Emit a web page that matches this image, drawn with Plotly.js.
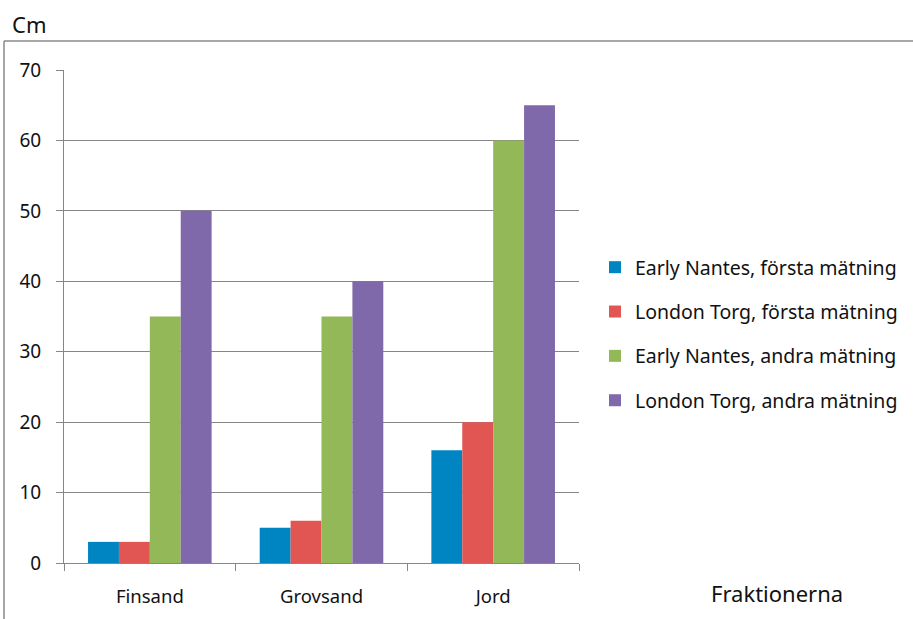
<!DOCTYPE html>
<html><head><meta charset="utf-8">
<script src="https://cdn.plot.ly/plotly-3.0.1.min.js"></script>
<style>html,body{margin:0;padding:0;background:#fff}#chart{width:913px;height:619px}</style>
</head><body><div id="chart"></div>
<script>
const categories = ["Finsand", "Grovsand", "Jord"];
const seriesNames = ["Early Nantes, första mätning", "London Torg, första mätning", "Early Nantes, andra mätning", "London Torg, andra mätning"];
const earlyNantes1 = [3, 5, 16];
const londonTorg1 = [3, 6, 20];
const earlyNantes2 = [35, 35, 60];
const londonTorg2 = [50, 40, 65];
const yTicks = [0, 10, 20, 30, 40, 50, 60, 70];
const colors = ["#0085C3", "#E15553", "#93B858", "#7F69AB"];

const values = [earlyNantes1, londonTorg1, earlyNantes2, londonTorg2];
const FONT = "Noto Sans, Open Sans, sans-serif";
const traces = values.map((v, i) => ({
  type: "bar", x: categories, y: v, name: seriesNames[i],
  marker: {color: colors[i], line: {width: 0}},
  legendgroup: "g" + i
}));

const L = 64, R = 579, T = 70, B = 563, W = 913, H = 619;
const px = x => (x - L) / (R - L);
const py = y => (B - y) / (B - T);

const layout = {
  width: W, height: H,
  margin: {l: L, r: W - R, t: T, b: H - B, pad: 0, autoexpand: false},
  paper_bgcolor: "#fff", plot_bgcolor: "#fff",
  font: {family: FONT, size: 18, color: "#111"},
  barmode: "group", bargap: 0.28, bargroupgap: 0,
  showlegend: true,
  legend: {x: px(595), xanchor: "left", y: py(334), yanchor: "middle",
    font: {family: FONT, size: 19.5, color: "#111"},
    traceorder: "grouped", tracegroupgap: 16, itemwidth: 30,
    bgcolor: "rgba(0,0,0,0)"},
  xaxis: {type: "category", showgrid: false, showline: true, linecolor: "#868686", linewidth: 1,
    ticks: "outside", tickson: "boundaries", ticklen: 7, tickcolor: "#868686",
    ticklabelstandoff: 17, tickfont: {family: FONT, size: 18.5, color: "#111"}},
  yaxis: {range: [0, 70], tickvals: yTicks, ticktext: yTicks.map(String),
    showgrid: true, gridcolor: "#868686", gridwidth: 1, zeroline: false,
    showline: true, linecolor: "#868686", linewidth: 1,
    ticks: "outside", ticklen: 7, tickcolor: "#868686",
    ticklabelstandoff: 11, tickfont: {family: FONT, size: 19, color: "#111"}},
  annotations: [
    {text: "Cm", xref: "paper", yref: "paper", x: px(29), y: py(24), showarrow: false,
     xanchor: "center", yanchor: "middle", font: {family: FONT, size: 22, color: "#111"}},
    {text: "Fraktionerna", xref: "paper", yref: "paper", x: px(777), y: py(593), showarrow: false,
     xanchor: "center", yanchor: "middle", font: {family: FONT, size: 22, color: "#111"}}
  ],
  shapes: [
    {type: "line", xref: "paper", yref: "paper", x0: px(4), x1: px(913), y0: py(41), y1: py(41), line: {color: "#8a8a8a", width: 1.5}},
    {type: "line", xref: "paper", yref: "paper", x0: px(4), x1: px(4), y0: py(41), y1: py(619), line: {color: "#8a8a8a", width: 1.5}}
  ]
};
Plotly.newPlot("chart", traces, layout, {displayModeBar: false, staticPlot: true});
</script></body></html>
